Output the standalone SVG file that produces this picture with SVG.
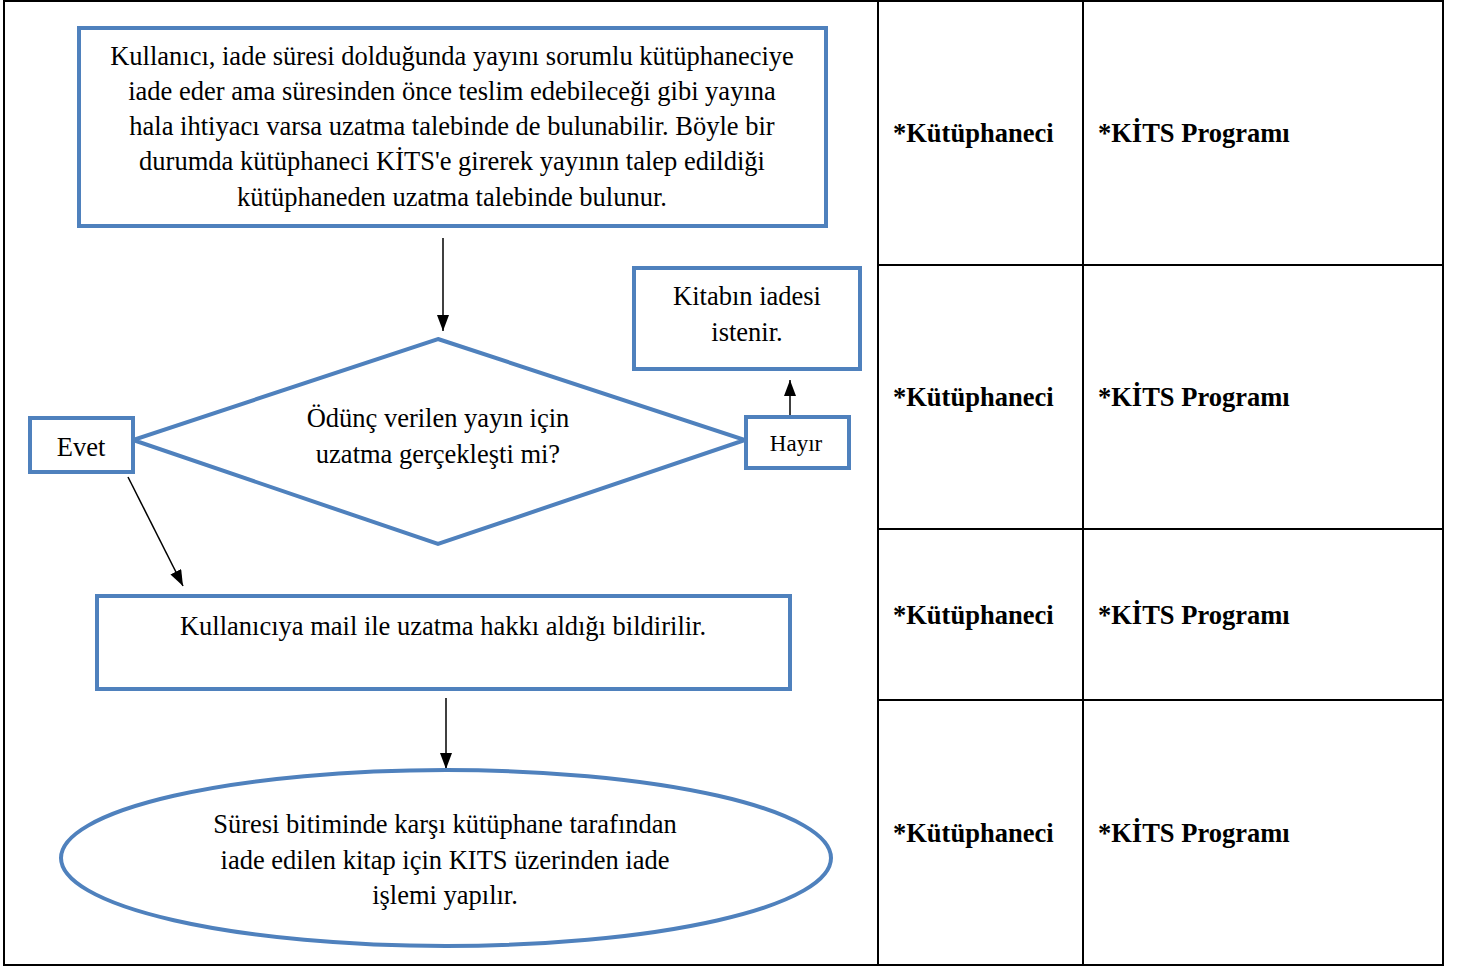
<svg xmlns="http://www.w3.org/2000/svg" width="1469" height="969" viewBox="0 0 1469 969">
<style>
.t{font-family:"Liberation Serif","Times New Roman",serif;font-size:26.5px;fill:#000;text-anchor:middle}
.b{font-family:"Liberation Serif","Times New Roman",serif;font-size:26.5px;font-weight:bold;fill:#000}
.n{fill:#fff;stroke:#4F81BD;stroke-width:4}
.g{stroke:#000;stroke-width:2;fill:none}
.c{stroke:#000;stroke-width:1.5;fill:none}
</style>
<defs>
<marker id="ah2" viewBox="0 0 16 12" refX="16" refY="6" markerWidth="16" markerHeight="12" markerUnits="userSpaceOnUse" orient="auto">
<path d="M0,0 L16,6 L0,12 z" fill="#000"/>
</marker>
</defs>
<rect width="1469" height="969" fill="#fff"/>
<g id="table">
<rect x="4" y="1" width="1439" height="964" class="g"/>
<line x1="878" y1="1" x2="878" y2="965" class="g"/>
<line x1="1083" y1="1" x2="1083" y2="965" class="g"/>
<line x1="878" y1="265" x2="1443" y2="265" class="g"/>
<line x1="878" y1="529" x2="1443" y2="529" class="g"/>
<line x1="878" y1="700" x2="1443" y2="700" class="g"/>
<text class="b" x="893" y="142">*Kütüphaneci</text>
<text class="b" x="1098" y="142">*KİTS Programı</text>
<text class="b" x="893" y="406">*Kütüphaneci</text>
<text class="b" x="1098" y="406">*KİTS Programı</text>
<text class="b" x="893" y="624">*Kütüphaneci</text>
<text class="b" x="1098" y="624">*KİTS Programı</text>
<text class="b" x="893" y="842">*Kütüphaneci</text>
<text class="b" x="1098" y="842">*KİTS Programı</text>
</g>
<g id="connectors">
<line x1="443" y1="238" x2="443" y2="331" class="c" marker-end="url(#ah2)"/>
<line x1="790" y1="418" x2="790" y2="380" class="c" marker-end="url(#ah2)"/>
<line x1="128" y1="477" x2="183" y2="586" class="c" marker-end="url(#ah2)"/>
<line x1="446" y1="698" x2="446" y2="769" class="c" marker-end="url(#ah2)"/>
</g>
<g id="start">
<rect x="79" y="28" width="747" height="198" class="n"/>
<text class="t" x="452" y="65">Kullanıcı, iade süresi dolduğunda yayını sorumlu kütüphaneciye</text>
<text class="t" x="452" y="100">iade eder ama süresinden önce teslim edebileceği gibi yayına</text>
<text class="t" x="452" y="135">hala ihtiyacı varsa uzatma talebinde de bulunabilir. Böyle bir</text>
<text class="t" x="452" y="170">durumda kütüphaneci KİTS'e girerek yayının talep edildiği</text>
<text class="t" x="452" y="206">kütüphaneden uzatma talebinde bulunur.</text>
</g>
<g id="decision">
<polygon points="438,339 745,440 438,544 133,440" class="n"/>
<text class="t" x="438" y="427">Ödünç verilen yayın için</text>
<text class="t" x="438" y="463">uzatma gerçekleşti mi?</text>
</g>
<g id="evet">
<rect x="30" y="418" width="103" height="54" class="n"/>
<text class="t" x="81" y="456">Evet</text>
</g>
<g id="hayir">
<rect x="746" y="417" width="103" height="51" class="n"/>
<text class="t" x="796" y="451" style="font-size:23px">Hayır</text>
</g>
<g id="iade">
<rect x="634" y="268" width="226" height="101" class="n"/>
<text class="t" x="747" y="305">Kitabın iadesi</text>
<text class="t" x="747" y="341">istenir.</text>
</g>
<g id="mail">
<rect x="97" y="596" width="693" height="93" class="n"/>
<text class="t" x="443" y="635">Kullanıcıya mail ile uzatma hakkı aldığı bildirilir.</text>
</g>
<g id="end">
<ellipse cx="446" cy="858" rx="385" ry="88" class="n"/>
<text class="t" x="445" y="833">Süresi bitiminde karşı kütüphane tarafından</text>
<text class="t" x="445" y="869">iade edilen kitap için KITS üzerinden iade</text>
<text class="t" x="445" y="904">işlemi yapılır.</text>
</g>
</svg>
